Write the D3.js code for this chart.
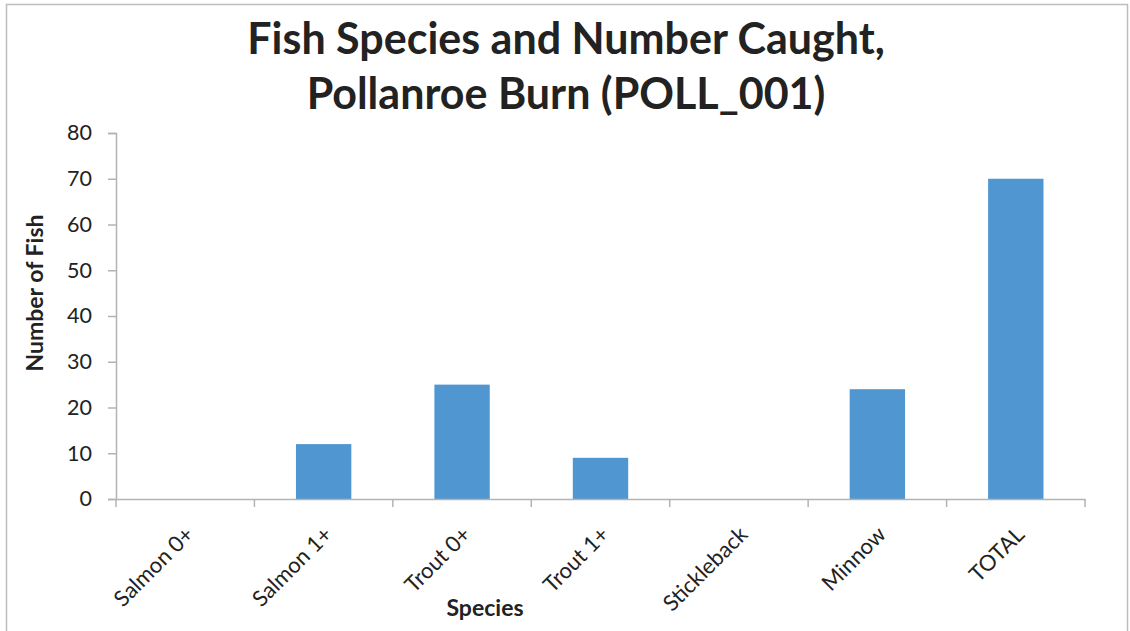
<!DOCTYPE html>
<html><head><meta charset="utf-8">
<script src="https://cdn.jsdelivr.net/npm/d3@7"></script>
<style>body{margin:0;background:#fff}svg{display:block}</style>
</head><body>
<svg id="c" width="1130" height="631"></svg>
<script>
const categories = ["Salmon 0+","Salmon 1+","Trout 0+","Trout 1+","Stickleback","Minnow","TOTAL"];
const values = [0,12,25,9,0,24,70];
const yTicks = [0,10,20,30,40,50,60,70,80];
const titleLines = ["Fish Species and Number Caught,","Pollanroe Burn (POLL_001)"];

(function(){
const svg = d3.select("#c");
const font = "Lato, 'Open Sans', sans-serif";
svg.append("rect").attr("x",6.5).attr("y",4.5).attr("width",1121).attr("height",640)
  .attr("fill","#fff").attr("stroke","#bdbdbd").attr("stroke-width",1.5);

const pl=116, pr=1085, pt=133, pb=499;
const x = d3.scaleBand().domain(categories).range([pl,pr]).paddingInner(0.6).paddingOuter(0.3);
const xb = d3.scaleBand().domain(categories).range([pl,pr]);
const y = d3.scaleLinear().domain([0,80]).range([pb,pt]);

svg.selectAll("rect.bar").data(values).join("rect").attr("class","bar")
  .attr("x",(d,i)=>x(categories[i])).attr("width",x.bandwidth())
  .attr("y",d=>y(d)).attr("height",d=>pb-y(d)).attr("fill","#5097d1");

const axisColor="#b3b3b3";
const ya = svg.append("g").attr("transform",`translate(${pl},0)`)
  .call(d3.axisLeft(y).tickValues(yTicks).tickSize(8).tickPadding(16));
ya.select(".domain").attr("stroke",axisColor).attr("stroke-width",1.5);
ya.selectAll(".tick line").attr("stroke",axisColor).attr("stroke-width",1.5);
ya.selectAll("text").attr("font-family",font).attr("font-size",21.5).attr("fill","#222");

const xa = svg.append("g").attr("transform",`translate(0,${pb})`)
  .call(d3.axisBottom(xb).tickSize(0).tickFormat(""));
xa.select(".domain").attr("stroke",axisColor).attr("stroke-width",1.5);
const tickPos = categories.map(c=>xb(c)).concat([pr]);
svg.selectAll("line.xt").data(tickPos).join("line").attr("class","xt")
  .attr("x1",d=>d).attr("x2",d=>d).attr("y1",pb).attr("y2",pb+8)
  .attr("stroke",axisColor).attr("stroke-width",1.5);

svg.selectAll("text.xl").data(categories).join("text").attr("class","xl")
  .attr("transform",d=>`translate(${xb(d)+xb.bandwidth()/2-1},${pb+26}) rotate(-45)`)
  .attr("text-anchor","end").attr("dy","0.7em")
  .attr("font-family",font).attr("font-size",22).attr("fill","#222").text(d=>d);

svg.selectAll("text.title").data(titleLines).join("text").attr("class","title")
  .attr("x",566).attr("y",(d,i)=>54+i*55).attr("text-anchor","middle")
  .attr("font-family",font).attr("font-weight","bold").attr("font-size",43).attr("fill","#222").text(d=>d);

svg.append("text").attr("transform",`translate(43,293) rotate(-90)`)
  .attr("text-anchor","middle").attr("font-family",font).attr("font-weight","bold")
  .attr("font-size",23).attr("fill","#222").text("Number of Fish");
svg.append("text").attr("x",485).attr("y",616).attr("text-anchor","middle")
  .attr("font-family",font).attr("font-weight","bold").attr("font-size",23).attr("fill","#222").text("Species");
})();
</script>
</body></html>
